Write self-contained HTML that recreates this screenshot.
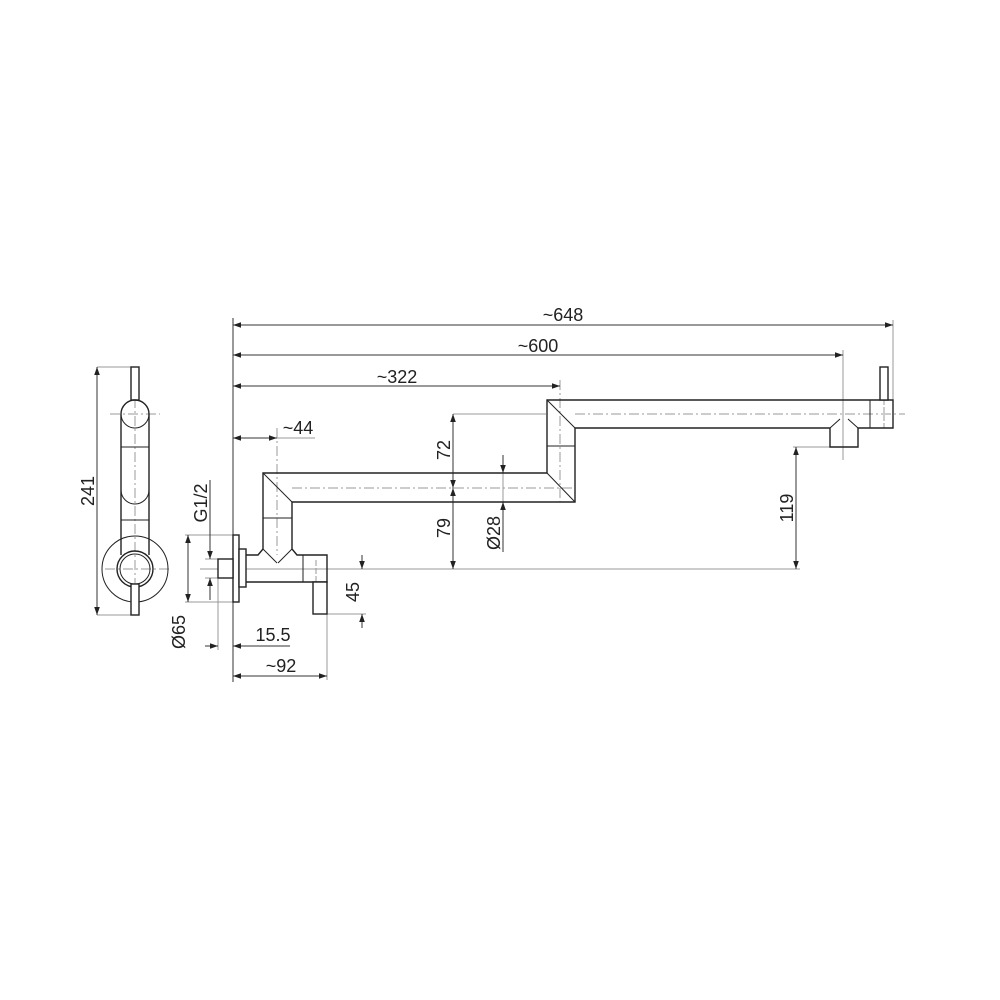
<!DOCTYPE html>
<html><head><meta charset="utf-8"><style>html,body{margin:0;padding:0;background:#fff}svg{display:block}</style></head>
<body>
<svg width="1000" height="1000" viewBox="0 0 1000 1000" xmlns="http://www.w3.org/2000/svg" font-family="Liberation Sans, sans-serif" font-size="18" fill="none">
<defs>
<marker id="a" viewBox="0 0 10 10" refX="10" refY="5" markerWidth="14" markerHeight="8" orient="auto-start-reverse" markerUnits="userSpaceOnUse"><path d="M0,1.5 L10,5 L0,8.5z" fill="#222"/></marker>
</defs>
<g stroke="#999" stroke-width="1">
<line x1="200" y1="569" x2="800" y2="569"/>
<line x1="105" y1="569" x2="170" y2="569" stroke-dasharray="10,3,2,3"/>
<line x1="135" y1="380" x2="135" y2="610" stroke-dasharray="10,3,2,3"/>
<line x1="110" y1="414" x2="160" y2="414" stroke-dasharray="10,3,2,3"/>
<line x1="453" y1="414" x2="546" y2="414"/>
<line x1="575" y1="414" x2="905" y2="414" stroke-dasharray="10,3,2,3"/>
<line x1="292" y1="488" x2="575" y2="488" stroke-dasharray="10,3,2,3"/>
<line x1="277" y1="428" x2="277" y2="555" stroke-dasharray="10,3,2,3"/>
<line x1="560" y1="380" x2="560" y2="502" stroke-dasharray="10,3,2,3"/>
<line x1="843" y1="350" x2="843" y2="460"/>
<line x1="893" y1="320" x2="893" y2="400"/>
<line x1="316" y1="560" x2="316" y2="614" stroke-dasharray="6,2"/>
<line x1="884" y1="367" x2="884" y2="428" stroke-dasharray="6,2"/>
<line x1="97" y1="367" x2="132" y2="367"/>
<line x1="97" y1="615" x2="132" y2="615"/>
<line x1="185" y1="535" x2="233" y2="535"/>
<line x1="185" y1="602" x2="233" y2="602"/>
<line x1="205" y1="559" x2="218" y2="559"/>
<line x1="205" y1="578" x2="218" y2="578"/>
<line x1="218" y1="578" x2="218" y2="650"/>
<line x1="327" y1="614" x2="327" y2="680"/>
<line x1="320" y1="614" x2="366" y2="614"/>
<line x1="453" y1="414" x2="453" y2="569"/>
<line x1="793" y1="447" x2="830" y2="447"/>
<line x1="503" y1="460" x2="503" y2="552"/>
</g>
<g stroke="#333" stroke-width="1">
<line x1="233" y1="325" x2="893" y2="325" marker-start="url(#a)" marker-end="url(#a)"/>
<line x1="233" y1="355" x2="843" y2="355" marker-start="url(#a)" marker-end="url(#a)"/>
<line x1="233" y1="386" x2="560" y2="386" marker-start="url(#a)" marker-end="url(#a)"/>
<line x1="233" y1="438" x2="277" y2="438" marker-start="url(#a)" marker-end="url(#a)"/>
<line x1="277" y1="438" x2="315" y2="438" stroke="#999"/>
<line x1="97" y1="367" x2="97" y2="615" marker-start="url(#a)" marker-end="url(#a)"/>
<line x1="188" y1="535" x2="188" y2="602" marker-start="url(#a)" marker-end="url(#a)"/>
<line x1="210" y1="480" x2="210" y2="559" marker-end="url(#a)"/>
<line x1="210" y1="600" x2="210" y2="578" marker-end="url(#a)"/>
<line x1="205" y1="646" x2="218" y2="646" marker-end="url(#a)"/>
<line x1="290" y1="646" x2="233" y2="646" marker-end="url(#a)"/>
<line x1="233" y1="676" x2="327" y2="676" marker-start="url(#a)" marker-end="url(#a)"/>
<line x1="362" y1="555" x2="362" y2="569" marker-end="url(#a)"/>
<line x1="362" y1="628" x2="362" y2="614" marker-end="url(#a)"/>
<line x1="453" y1="414" x2="453" y2="488" marker-start="url(#a)" marker-end="url(#a)"/>
<line x1="453" y1="488" x2="453" y2="569" marker-start="url(#a)" marker-end="url(#a)"/>
<line x1="503" y1="455" x2="503" y2="473" marker-end="url(#a)"/>
<line x1="503" y1="552" x2="503" y2="502" marker-end="url(#a)"/>
<line x1="796" y1="447" x2="796" y2="569" marker-start="url(#a)" marker-end="url(#a)"/>
<line x1="233" y1="318" x2="233" y2="682"/>
</g>
<g stroke="#222" stroke-width="1.4">
<circle cx="135" cy="569" r="33" stroke-width="1"/>
<circle cx="135" cy="569" r="18"/>
<circle cx="135" cy="569" r="15" stroke-width="1"/>
<rect x="131" y="367" width="8" height="33" fill="#fff"/>
<path d="M121,414 A14,14 0 0 1 149,414 L149,555 M121,414 L121,555" />
<path d="M121,414 A14,14 0 0 0 149,414" stroke-width="1"/>
<line x1="121" y1="447" x2="149" y2="447" stroke-width="1"/>
<line x1="121" y1="520" x2="149" y2="520" stroke-width="1"/>
<path d="M121,490 A14,14 0 0 0 149,490" stroke-width="1"/>
<rect x="131" y="584" width="8" height="31" fill="#fff"/>
<rect x="233" y="535" width="6" height="67" fill="#fff"/>
<rect x="239" y="549" width="7" height="38" fill="#fff"/>
<rect x="218" y="559" width="15" height="19" fill="#fff"/>
<path d="M246,555 L258,555 L263,549 L263,473 L547,473 L547,400 L893,400 L893,428 L858,428 L858,447 L830,447 L830,428 L575,428 L575,502 L292,502 L292,549 L297,555 L327,555 L327,582 L246,582"/>
<line x1="263" y1="473" x2="292" y2="502" stroke-width="1"/>
<line x1="547" y1="473" x2="575" y2="502" stroke-width="1"/>
<line x1="547" y1="400" x2="575" y2="428" stroke-width="1"/>
<line x1="263" y1="518" x2="292" y2="518" stroke-width="1"/>
<line x1="547" y1="446" x2="575" y2="446" stroke-width="1"/>
<line x1="303" y1="555" x2="303" y2="582" stroke-width="1"/>
<line x1="263" y1="549" x2="277" y2="563" stroke-width="1"/>
<line x1="292" y1="549" x2="278" y2="563" stroke-width="1"/>
<line x1="870" y1="400" x2="870" y2="428" stroke-width="1"/>
<line x1="830" y1="428" x2="840" y2="419" stroke-width="1"/>
<line x1="858" y1="428" x2="848" y2="419" stroke-width="1"/>
<rect x="313" y="582" width="14" height="32" fill="#fff"/>
<rect x="880" y="367" width="8" height="33" fill="#fff"/>
</g>
<g fill="#222" stroke="none">
<text x="563" y="321" text-anchor="middle">~648</text>
<text x="538" y="352" text-anchor="middle">~600</text>
<text x="397" y="383" text-anchor="middle">~322</text>
<text x="298" y="434" text-anchor="middle">~44</text>
<text x="273" y="641" text-anchor="middle">15.5</text>
<text x="281" y="672" text-anchor="middle">~92</text>
<text transform="translate(94,491) rotate(-90)" text-anchor="middle">241</text>
<text transform="translate(207,503) rotate(-90)" text-anchor="middle">G1/2</text>
<text transform="translate(185,632) rotate(-90)" text-anchor="middle">Ø65</text>
<text transform="translate(359,592) rotate(-90)" text-anchor="middle">45</text>
<text transform="translate(450,450) rotate(-90)" text-anchor="middle">72</text>
<text transform="translate(450,528) rotate(-90)" text-anchor="middle">79</text>
<text transform="translate(500,533) rotate(-90)" text-anchor="middle">Ø28</text>
<text transform="translate(793,508) rotate(-90)" text-anchor="middle">119</text>
</g>
</svg>
</body></html>
